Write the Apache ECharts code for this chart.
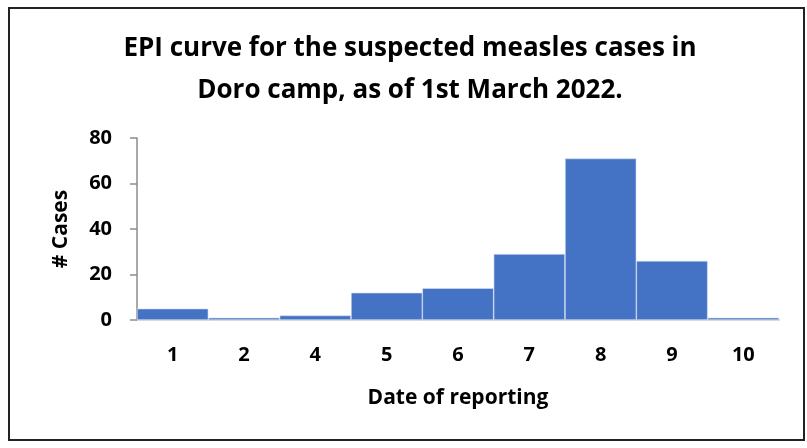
<!DOCTYPE html>
<html lang="en">
<head>
    <meta charset="UTF-8">
    <title>EPI curve</title>
    <script src="https://cdn.jsdelivr.net/npm/echarts@6/dist/echarts.min.js"></script>
    <style>
        body { margin: 0; background: #fff; }
        .frame {
            position: absolute;
            left: 8px; top: 7px;
            width: 797px; height: 434px;
            border: 2px solid #222;
            box-sizing: border-box;
        }
        #chart { position: absolute; left: 0; top: 0; width: 807px; height: 448px; }
    </style>
</head>
<body>
    <div class="frame"></div>
    <div id="chart"></div>
    <script>
        // Data
        const dates = ['1', '2', '4', '5', '6', '7', '8', '9', '10'];
        const cases = [5, 1, 2, 12, 14, 29, 71, 26, 1];

        const font = '"Open Sans", Lato, sans-serif';
        const chart = echarts.init(document.getElementById('chart'));

        chart.setOption({
            title: {
                text: 'EPI curve for the suspected measles cases in\nDoro camp, as of 1st March 2022.',
                left: 405,
                top: 23,
                textAlign: 'center',
                textStyle: { fontFamily: font, fontSize: 26, fontWeight: 'bold', color: '#000', lineHeight: 42 }
            },
            grid: { left: 137, right: 28, top: 138, bottom: 128 },
            xAxis: {
                type: 'category',
                data: dates,
                name: 'Date of reporting',
                nameLocation: 'middle',
                nameGap: 68,
                nameTextStyle: { fontFamily: font, fontSize: 21, fontWeight: 'bold', color: '#000' },
                axisLine: { lineStyle: { color: '#d9d9d9', width: 2 } },
                axisTick: { show: false },
                axisLabel: { fontFamily: font, fontSize: 20, fontWeight: 'bold', color: '#000', margin: 25 }
            },
            yAxis: {
                type: 'value',
                min: 0, max: 80, interval: 20,
                name: '# Cases',
                nameLocation: 'middle',
                nameGap: 65,
                nameTextStyle: { fontFamily: font, fontSize: 21, fontWeight: 'bold', color: '#000' },
                splitLine: { show: false },
                axisLine: { show: true, lineStyle: { color: '#8c8c8c', width: 1.5 } },
                axisTick: { show: true, length: 7, lineStyle: { color: '#8c8c8c', width: 1.5 } },
                axisLabel: { fontFamily: font, fontSize: 20, fontWeight: 'bold', color: '#000', margin: 25 }
            },
            series: [{
                type: 'bar',
                data: cases,
                barCategoryGap: '0%',
                itemStyle: { color: '#4472C4', borderColor: '#d6e0f2', borderWidth: 0.6 },
                animation: false
            }]
        });
    </script>
</body>
</html>
